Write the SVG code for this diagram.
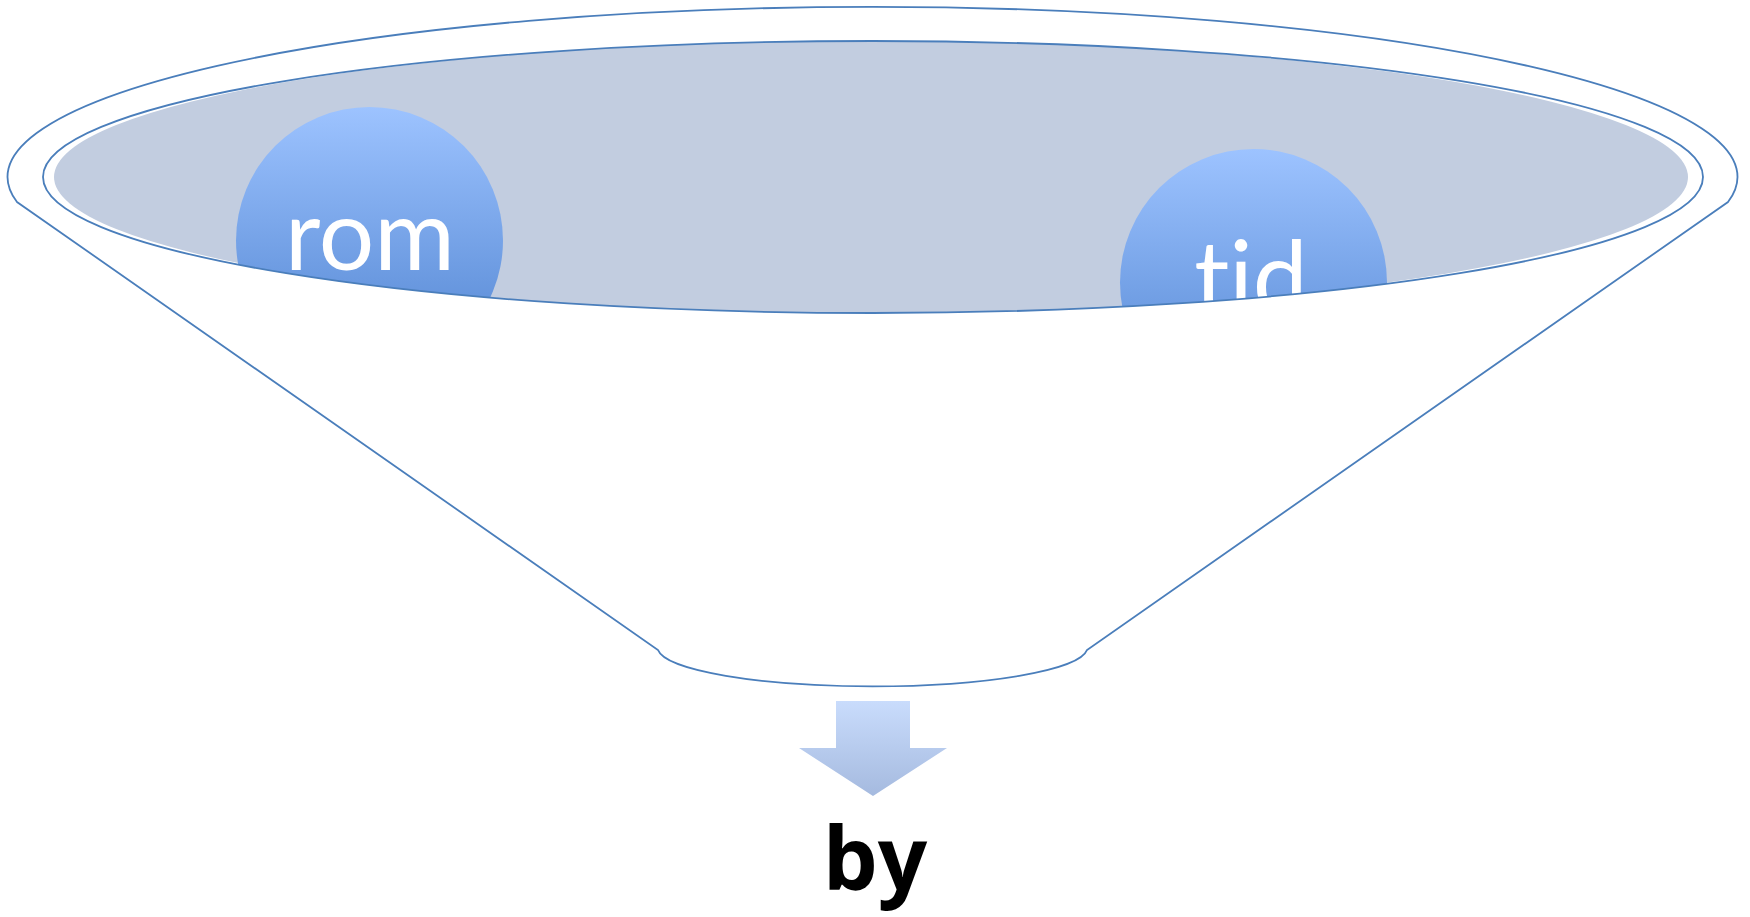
<svg xmlns="http://www.w3.org/2000/svg" width="1750" height="917" viewBox="0 0 1750 917">
<style>
.ln{fill:none;stroke:#4A7EBB;stroke-width:1.8}
.ct{font-family:Lato,"Open Sans","Liberation Sans",sans-serif;font-size:98px;fill:#FFFFFF;text-anchor:middle;font-variant-ligatures:none;font-feature-settings:"liga" 0}
.out{font-family:"Open Sans","DejaVu Sans",sans-serif;font-weight:bold;font-size:87px;fill:#000000;text-anchor:middle}
</style>
<defs>
<linearGradient id="cg" x1="0" y1="0" x2="0" y2="1">
<stop offset="0" stop-color="#9DC3FF"/>
<stop offset="1" stop-color="#4F83D0"/>
</linearGradient>
<linearGradient id="ag" x1="0" y1="0" x2="0" y2="1">
<stop offset="0" stop-color="#C9DCFC"/>
<stop offset="1" stop-color="#A5BADF"/>
</linearGradient>
<clipPath id="bowl">
<ellipse cx="873" cy="177" rx="830" ry="136"/>
</clipPath>
</defs>
<g id="funnel">
<path class="ln" fill="#FFFFFF" d="M17 202 A865 170 0 1 1 1728 202 L1087 650 A215 39 0 0 1 658 650 Z"/>
<ellipse cx="873" cy="177" rx="830" ry="136" fill="#FFFFFF"/>
<ellipse cx="871" cy="177" rx="817" ry="136" fill="#C2CDE0"/>
</g>
<g id="rom" clip-path="url(#bowl)">
<circle cx="369.5" cy="240.5" r="133.5" fill="url(#cg)"/>
<text class="ct" x="370" y="270">rom</text>
</g>
<g id="tid" clip-path="url(#bowl)">
<circle cx="1253.5" cy="282.5" r="133.5" fill="url(#cg)"/>
<text class="ct" x="1251" y="312">tid</text>
</g>
<g id="rim">
<ellipse class="ln" cx="873" cy="177" rx="830" ry="136"/>
</g>
<g id="connectors">
<path d="M836 701 H910 V748 H947 L873 796 L799 748 H836 Z" fill="url(#ag)"/>
</g>
<g id="by">
<text class="out" x="875" y="890">by</text>
</g>
</svg>
